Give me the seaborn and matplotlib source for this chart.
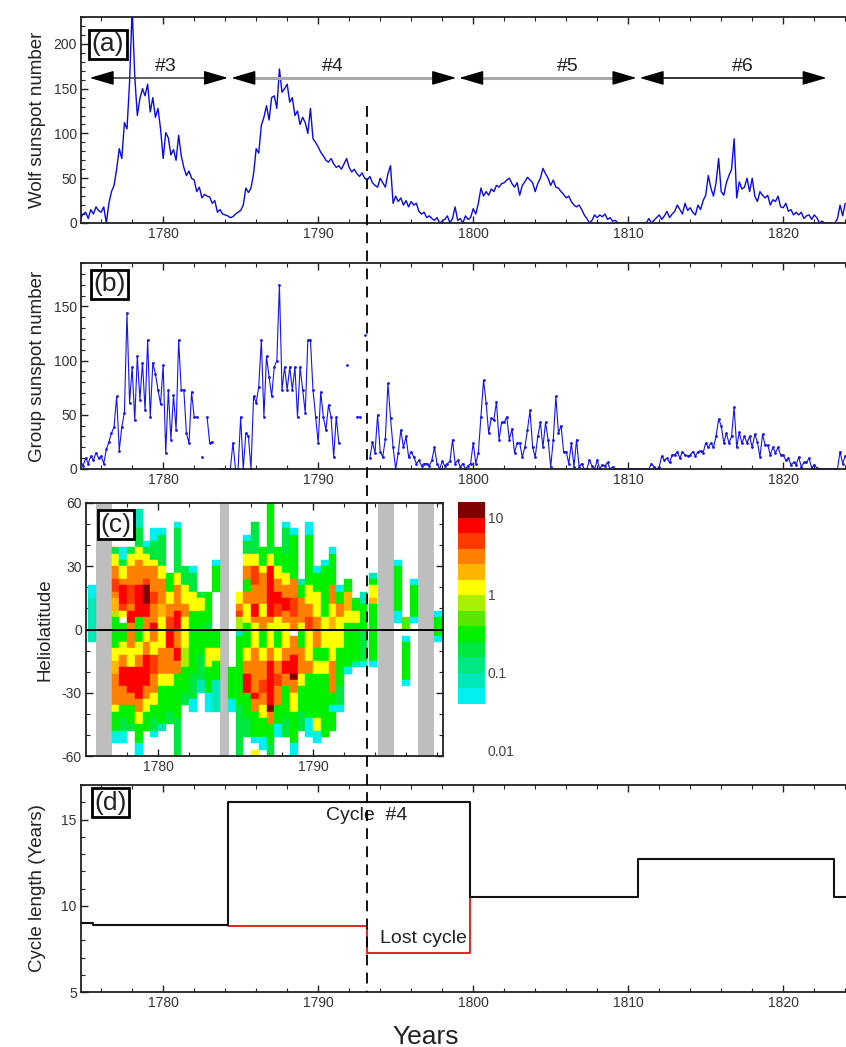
import numpy as np
import pandas as pd
import matplotlib
matplotlib.use("Agg")
import matplotlib.pyplot as plt
import seaborn as sns
from matplotlib.ticker import MultipleLocator, FixedLocator, NullLocator
from matplotlib.lines import Line2D

sns.set_style("ticks")
plt.rcParams["font.family"] = ["Liberation Sans", "DejaVu Sans"]
plt.rcParams["axes.unicode_minus"] = False

# ---------------- data ----------------
T_START = 1774 + 4 / 6          # first sample (bimonthly sampling)
T_STEP = 1 / 6

wolf = [5, 10,
        12, 5, 15, 10, 18, 14,          # 1775
        12, 18, 0, 22, 35, 42,          # 1776
        60, 83, 72, 112, 105, 157,      # 1777
        240, 164, 120, 139, 150, 142,   # 1778
        155, 124, 140, 118, 128, 105,   # 1779
        72, 101, 95, 76, 82, 70,        # 1780
        98, 75, 62, 53, 58, 50,         # 1781
        48, 35, 40, 28, 32, 30,         # 1782
        29, 22, 25, 12, 15, 10,         # 1783
        9, 8, 6, 7, 10, 12,             # 1784
        14, 20, 39, 34, 39, 55,         # 1785
        83, 78, 109, 118, 131, 115,     # 1786
        140, 142, 128, 172, 146, 150,   # 1787
        155, 135, 140, 120, 125, 110,   # 1788
        118, 112, 100, 128, 94, 90,     # 1789
        85, 79, 75, 70, 68, 72,         # 1790
        66, 62, 64, 60, 66, 72,         # 1791
        62, 57, 60, 55, 52, 56,         # 1792
        50, 48, 52, 45, 42, 40,         # 1793
        50, 45, 40, 55, 64, 22,         # 1794
        30, 24, 28, 20, 25, 18,         # 1795
        24, 20, 22, 13, 10, 12,         # 1796
        6, 8, 5, 3, 6, 0,               # 1797
        2, 4, 8, 0, 5, 18,              # 1798
        3, 5, 0, 8, 4, 6,               # 1799
        16, 10, 22, 39, 30, 35,         # 1800
        31, 38, 35, 42, 40, 44,         # 1801
        45, 48, 50, 44, 40, 45,         # 1802
        31, 42, 46, 51, 48, 45,         # 1803
        35, 44, 50, 61, 55, 50,         # 1804
        42, 48, 40, 39, 35, 32,         # 1805
        28, 30, 24, 20, 18, 20,         # 1806
        15, 9, 5, 0, 3, 9,              # 1807
        6, 9, 7, 10, 4, 6,              # 1808
        2, 3, 0, 0, 0, 0,               # 1809
        0, 0, 0, 0, 0, 0,               # 1810
        0, 0, 5, 0, 3, 6,               # 1811
        9, 4, 8, 13, 6, 10,             # 1812
        13, 20, 15, 10, 22, 14,         # 1813
        17, 12, 9, 20, 15, 25,          # 1814
        31, 53, 39, 30, 45, 72,         # 1815
        35, 31, 45, 53, 60, 94,         # 1816
        28, 46, 38, 40, 50, 35,         # 1817
        50, 30, 24, 35, 31, 28,         # 1818
        31, 20, 26, 24, 30, 18,         # 1819
        17, 22, 13, 15, 9, 12,          # 1820
        9, 12, 5, 8, 9, 4,              # 1821
        9, 6, 0, 2, 0, 0,               # 1822
        0, 0, 0, 5, 20, 8,              # 1823
        22]

nan = np.nan
group = [8, 3,
         10, 5, 12, 8, 15, 10,          # 1775
         12, 5, 18, 25, 33, 39,         # 1776
         67, 17, 39, 52, 144, 61,       # 1777
         94, 45, 104, 64, 98, 54,       # 1778
         119, 48, 98, 88, 73, 60,       # 1779
         96, 15, 73, 27, 68, 36,        # 1780
         119, 73, 73, 33, 24, 71,       # 1781
         48, 48, nan, 11, nan, 48,      # 1782
         24, 25, nan, nan, 0, 0,        # 1783
         0, 0, 0, 24, 0, 0,             # 1784
         48, 0, 33, 30, 0, 67,          # 1785
         61, 76, 119, 48, 104, 85,      # 1786
         67, 94, 100, 170, 73, 94,      # 1787
         73, 94, 73, 94, 48, 94,        # 1788
         73, 52, 119, 119, 73, 48,      # 1789
         24, 71, 48, 36, 59, 48,        # 1790
         11, 48, 24, nan, nan, 96,      # 1791
         nan, nan, nan, 48, 48, nan,    # 1792
         124, nan, 10, 25, 15, 50,      # 1793
         16, 11, 28, 79, 47, 20,        # 1794
         0, 15, 36, 20, 30, 11,         # 1795
         16, 11, 5, 8, 3, 5,            # 1796
         5, 3, 8, 20, 5, 0,             # 1797
         7, 3, 5, 7, 27, 5,             # 1798
         8, 2, 5, 0, 3, 5,              # 1799
         24, 5, 15, 48, 82, 61,         # 1800
         33, 47, 45, 62, 27, 43,        # 1801
         43, 48, 27, 37, 15, 24,        # 1802
         24, 11, 20, 36, 54, 20,        # 1803
         11, 30, 43, 20, 43, 27,        # 1804
         2, 27, 67, 33, 40, 16,         # 1805
         16, 5, 24, 2, 27, 2,           # 1806
         5, 0, 0, 8, 3, 0,              # 1807
         8, 0, 4, 3, 6, 0,              # 1808
         2, 0, 0, 0, 0, 0,              # 1809
         0, 0, 0, 0, 0, 0,              # 1810
         0, 0, 0, 5, 2, 0,              # 1811
         2, 12, 8, 10, 6, 13,           # 1812
         13, 16, 10, 16, 13, 12,        # 1813
         13, 16, 12, 16, 17, 15,        # 1814
         24, 20, 24, 20, 30, 46,        # 1815
         40, 24, 33, 24, 30, 57,        # 1816
         20, 34, 24, 30, 24, 30,        # 1817
         20, 32, 25, 11, 32, 22,        # 1818
         22, 13, 20, 15, 20, 13,        # 1819
         13, 8, 10, 4, 6, 4,            # 1820
         11, 2, 6, 6, 10, 1,            # 1821
         4, 1, 0, 0, 0, 0,              # 1822
         0, 0, 0, 0, 16, 5,             # 1823
         12]

# cycle arrows (panel a)
cycle_names = ["#3", "#4", "#5", "#6"]
cycle_arrow_start = [1775.26, 1784.40, 1799.10, 1810.74]
cycle_arrow_end = [1784.18, 1798.90, 1810.53, 1822.80]
cycle_label_x = [1780.2, 1790.95, 1806.1, 1817.4]
ARROW_LEVEL = 162
LABEL_LEVEL = 175

# butterfly diagram (panel c): column start year -> (row_from, row_to, colour level)
# rows are 3-degree bins counted from +60 deg downwards (row 0 = 57..60)
heat_cells = {
    1775.5: [(13, 14, 0), (15, 21, 1)],
    1777.0: [(7, 7, 3), (8, 9, 7), (10, 11, 9), (12, 13, 10), (14, 14, 9), (15, 16, 8), (17, 17, 6), (18, 19, 4),
             (20, 22, 4), (23, 24, 7), (25, 26, 8), (27, 31, 9), (32, 32, 7), (33, 35, 4), (36, 37, 0)],
    1777.5: [(7, 8, 0), (9, 9, 3), (10, 11, 7), (12, 12, 9), (13, 15, 11), (16, 16, 10), (17, 17, 7), (19, 19, 4),
             (20, 21, 4), (22, 23, 7), (24, 25, 9), (26, 28, 11), (29, 31, 9), (32, 33, 4), (34, 35, 3), (36, 37, 0)],
    1778.0: [(7, 7, 3), (8, 9, 7), (10, 12, 9), (13, 15, 10), (16, 16, 9), (17, 18, 11), (19, 19, 9),
             (20, 22, 9), (23, 25, 7), (26, 29, 11), (30, 31, 9), (32, 34, 4), (35, 35, 3)],
    1778.5: [(1, 3, 1), (4, 6, 3), (7, 8, 7), (9, 12, 9), (13, 17, 11), (18, 19, 4),
             (20, 21, 4), (22, 23, 7), (24, 25, 9), (26, 30, 11), (31, 32, 9), (33, 34, 7), (35, 37, 4), (38, 39, 0)],
    1779.0: [(6, 6, 0), (7, 7, 3), (8, 9, 7), (10, 11, 9), (12, 12, 10), (13, 15, 12), (16, 17, 11), (18, 19, 9),
             (20, 21, 7), (22, 23, 9), (24, 28, 11), (29, 30, 9), (31, 32, 7), (33, 35, 4)],
    1779.5: [(4, 5, 0), (6, 8, 3), (9, 9, 7), (10, 13, 9), (14, 15, 10), (16, 18, 9), (19, 19, 11),
             (20, 21, 9), (22, 23, 7), (24, 26, 10), (27, 29, 9), (30, 31, 7), (32, 33, 4), (34, 35, 3), (36, 36, 0)],
    1780.0: [(4, 4, 0), (5, 9, 3), (10, 11, 7), (12, 15, 9), (16, 17, 8), (18, 19, 7),
             (20, 22, 7), (23, 26, 9), (27, 28, 7), (29, 34, 4), (35, 35, 1)],
    1780.5: [(11, 13, 4), (14, 15, 7), (16, 17, 9), (18, 19, 10),
             (20, 22, 11), (23, 26, 9), (27, 28, 7), (29, 32, 4), (33, 34, 3)],
    1781.0: [(3, 3, 0), (4, 10, 3), (11, 12, 7), (13, 16, 9), (17, 19, 11),
             (20, 22, 9), (23, 24, 11), (25, 26, 9), (27, 33, 4), (34, 39, 3)],
    1781.5: [(10, 12, 3), (13, 15, 7), (16, 17, 9), (18, 19, 7),
             (20, 22, 7), (23, 25, 6), (26, 29, 4), (30, 31, 3)],
    1782.0: [(10, 10, 0), (11, 13, 3), (14, 16, 7), (17, 19, 4), (20, 26, 4), (27, 30, 3), (31, 32, 0)],
    1782.5: [(14, 14, 3), (15, 16, 7), (17, 19, 4), (20, 23, 4), (24, 27, 3), (28, 29, 1)],
    1783.0: [(14, 18, 4), (19, 19, 3), (20, 22, 4), (23, 25, 7), (26, 29, 4), (30, 32, 0)],
    1783.5: [(9, 9, 0), (10, 13, 4), (20, 22, 4), (23, 24, 7), (25, 27, 4), (28, 32, 1)],
    1784.5: [(26, 30, 4), (31, 32, 0)],
    1785.0: [(14, 15, 7), (16, 16, 9), (17, 17, 10), (18, 19, 6), (20, 20, 1), (21, 31, 4), (32, 39, 3)],
    1785.5: [(5, 5, 0), (6, 7, 3), (8, 9, 7), (10, 11, 9), (12, 13, 4), (14, 15, 9), (16, 18, 7), (19, 19, 4),
             (20, 22, 4), (23, 24, 7), (25, 26, 9), (27, 29, 11), (30, 33, 4), (34, 36, 3)],
    1786.0: [(3, 7, 3), (8, 9, 7), (10, 12, 10), (13, 15, 9), (16, 17, 11), (18, 18, 9), (19, 19, 7),
             (20, 22, 7), (23, 29, 9), (30, 30, 11), (31, 32, 9), (33, 36, 4), (37, 37, 0), (39, 39, 7)],
    1786.5: [(7, 9, 4), (10, 10, 7), (11, 15, 9), (16, 17, 7), (18, 19, 9),
             (20, 22, 4), (23, 24, 7), (25, 27, 9), (28, 29, 10), (30, 31, 9), (32, 33, 7), (34, 36, 4), (37, 38, 0)],
    1787.0: [(0, 6, 4), (7, 7, 3), (8, 9, 7), (10, 17, 11), (18, 18, 9), (19, 19, 7),
             (20, 22, 7), (23, 24, 9), (25, 31, 11), (32, 32, 12), (33, 34, 9), (35, 37, 4), (38, 39, 3)],
    1787.5: [(7, 9, 4), (10, 11, 7), (12, 13, 9), (14, 15, 11), (16, 17, 10), (18, 19, 7),
             (20, 22, 4), (23, 24, 7), (25, 26, 9), (27, 28, 10), (29, 31, 9), (32, 34, 4), (35, 36, 0)],
    1788.0: [(3, 3, 0), (4, 7, 3), (8, 10, 4), (11, 12, 7), (13, 14, 9), (15, 16, 11), (17, 18, 9), (19, 19, 7),
             (20, 22, 7), (23, 24, 9), (25, 26, 11), (27, 28, 9), (29, 33, 4), (34, 36, 3)],
    1788.5: [(4, 4, 0), (5, 11, 4), (12, 14, 9), (15, 17, 10), (18, 19, 9),
             (21, 23, 9), (24, 26, 11), (27, 27, 12), (28, 29, 9), (30, 32, 7), (33, 37, 4), (38, 39, 0)],
    1789.0: [(12, 12, 1), (13, 14, 4), (15, 18, 9), (19, 19, 7),
             (20, 22, 4), (23, 26, 9), (27, 28, 7), (29, 32, 4), (33, 35, 3)],
    1789.5: [(3, 4, 0), (5, 12, 4), (13, 15, 7), (16, 17, 9), (18, 19, 10),
             (20, 24, 7), (25, 26, 9), (27, 33, 4), (34, 36, 0)],
    1790.0: [(10, 10, 0), (11, 13, 4), (14, 17, 7), (18, 19, 9),
             (20, 22, 9), (23, 24, 4), (25, 26, 7), (27, 33, 4), (34, 35, 7), (36, 37, 0)],
    1790.5: [(9, 9, 0), (10, 17, 4), (18, 19, 7), (20, 22, 7), (23, 24, 4), (25, 26, 7), (27, 36, 4)],
    1791.0: [(7, 7, 0), (8, 12, 4), (13, 15, 9), (16, 17, 7), (18, 19, 8),
             (20, 24, 7), (25, 29, 9), (30, 31, 4), (32, 32, 0), (33, 35, 4)],
    1791.5: [(13, 13, 0), (14, 15, 4), (16, 17, 9), (18, 19, 7), (20, 22, 7), (23, 28, 4), (29, 31, 3), (32, 32, 0)],
    1792.0: [(12, 13, 4), (14, 16, 8), (17, 18, 7), (19, 19, 4), (20, 25, 4), (26, 26, 0)],
    1792.5: [(15, 16, 4), (17, 18, 7), (19, 19, 4), (20, 24, 4), (25, 25, 1)],
    1793.0: [(14, 15, 1), (16, 19, 4), (20, 24, 3), (25, 25, 0)],
    1793.6: [(11, 11, 1), (12, 12, 4), (13, 14, 7), (15, 15, 8), (16, 19, 4), (20, 24, 4), (25, 25, 0)],
    1795.25: [(9, 9, 0), (10, 16, 4), (17, 18, 0)],
    1795.75: [(18, 19, 5), (21, 21, 0), (22, 27, 4), (28, 28, 0)],
    1796.25: [(12, 12, 0), (13, 17, 4), (18, 18, 0)],
    1797.8: [(17, 17, 0), (18, 20, 4), (21, 21, 0)],
}
no_data_gaps = [(1776.0, 1777.0), (1784.0, 1784.55), (1794.2, 1795.25), (1796.75, 1797.8)]

level_colors = ["#00F0F0", "#00E8B8", "#00E880", "#00E840", "#00F000", "#58E800", "#A8F000",
                "#FFFF00", "#FFB400", "#FF7F00", "#FF3A00", "#FF0000", "#800000"]
level_edges_log = [-1.4 + 0.2 * k for k in range(14)]
cbar_ticks = [0.01, 0.1, 1, 10]
cbar_ticklabels = ["0.01", "0.1", "1", "10"]

# cycle lengths (panel d)
cycle_start = [1774.7, 1775.5, 1784.2, 1799.8, 1810.6, 1823.3, 1824.05]
cycle_length = [9.0, 8.9, 16.0, 10.5, 12.7, 10.5, 10.5]
LOST_START = 1793.15
lost_x = [1784.2, LOST_START, 1799.8]
lost_y = [8.85, 7.25, 10.5]

# ---------------- figure ----------------
W, H = 846, 1047
fig = plt.figure(figsize=(W / 100, H / 100), dpi=100)
fig.patch.set_facecolor("white")


def rect(l, t, r, b):
    return [l / W, 1 - b / H, (r - l) / W, (b - t) / H]


ax_a = fig.add_axes(rect(81, 17, 846, 223))
ax_b = fig.add_axes(rect(81, 263, 846, 469))
ax_c = fig.add_axes(rect(86, 503, 443, 756))
cax = fig.add_axes(rect(458, 502, 485, 750))
ax_d = fig.add_axes(rect(81, 785, 846, 992))

SPINE = "#222222"
TXT = "#333333"


def style(ax, right=False):
    for s in ["top", "bottom", "left", "right"]:
        ax.spines[s].set_linewidth(1.3)
        ax.spines[s].set_color(SPINE)
    ax.spines["right"].set_visible(right)
    ax.tick_params(which="both", direction="in", top=True, right=right, bottom=True, left=True,
                   labelsize=10, labelcolor=TXT, color=SPINE, pad=3)
    ax.tick_params(which="major", length=5, width=1.0)
    ax.tick_params(which="minor", length=3, width=0.8)
    ax.xaxis.set_major_locator(MultipleLocator(10))
    ax.xaxis.set_minor_locator(MultipleLocator(2))
    ax.set_facecolor("white")


def panel_label(ax, txt, xf, yf):
    ax.text(xf, yf, txt, transform=ax.transAxes, fontsize=19, ha="left", va="top", color="#222",
            bbox=dict(boxstyle="square,pad=0.1", fc="white", ec="black", lw=2), zorder=10)


t = T_START + T_STEP * np.arange(len(wolf))
XL = (1774.7, 1824.05)

# ---- panel a
df_a = pd.DataFrame({"year": t, "wolf": wolf})
sns.lineplot(data=df_a, x="year", y="wolf", ax=ax_a, color="#0a0ae6", lw=1.0,
             estimator=None, sort=False, legend=False)
ax_a.set_xlim(*XL)
ax_a.set_ylim(0, 230)
style(ax_a)
ax_a.yaxis.set_major_locator(MultipleLocator(50))
ax_a.yaxis.set_minor_locator(MultipleLocator(10))
ax_a.set_xlabel("")
ax_a.set_ylabel("Wolf sunspot number", fontsize=13.5, color="#222")
ax_a.yaxis.set_label_coords(-0.0458, 0.5)
shaft_styles = [("#444444", 1.2), ("#A8A8A8", 2.2), ("#A8A8A8", 2.2), ("#111111", 1.2)]
for name, x0, x1, xl, (sc, sw) in zip(cycle_names, cycle_arrow_start, cycle_arrow_end,
                                      cycle_label_x, shaft_styles):
    ax_a.plot([x0 + 0.6, x1 - 0.6], [ARROW_LEVEL, ARROW_LEVEL], color=sc, lw=sw, solid_capstyle="butt", zorder=4)
    for tip, inner in [(x0, x0 + 1.35), (x1, x1 - 1.35)]:
        ax_a.annotate("", xy=(tip, ARROW_LEVEL), xytext=(inner, ARROW_LEVEL),
                      arrowprops=dict(arrowstyle="-|>,head_length=0.75,head_width=0.22", color="black",
                                      lw=1.0, shrinkA=0, shrinkB=0, mutation_scale=20), zorder=5)
    ax_a.text(xl, LABEL_LEVEL, name, ha="center", va="center", fontsize=14, color="#222", zorder=5)
panel_label(ax_a, "(a)", 0.0137, 0.925)

# ---- panel b
ax_b.plot(t, group, color="#1414f0", lw=0.8, marker="o", ms=2.0, mew=0)
ax_b.set_xlim(*XL)
ax_b.set_ylim(0, 190)
style(ax_b)
ax_b.yaxis.set_major_locator(MultipleLocator(50))
ax_b.yaxis.set_minor_locator(MultipleLocator(10))
ax_b.set_ylabel("Group sunspot number", fontsize=13.5, color="#222")
ax_b.yaxis.set_label_coords(-0.0458, 0.5)
panel_label(ax_b, "(b)", 0.0163, 0.955)

# ---- panel c
for a0, a1 in no_data_gaps:
    ax_c.axvspan(a0, a1, color="#BEBEBE", lw=0, zorder=1)
for yr, segs in heat_cells.items():
    for r0, r1, lvl in segs:
        ax_c.bar(yr, 3 * (r1 - r0 + 1), bottom=60 - 3 * (r1 + 1), width=0.5, align="edge",
                 color=level_colors[lvl], edgecolor=level_colors[lvl], lw=0.3, zorder=2)
ax_c.axhline(0, color="black", lw=1.4, zorder=3)
ax_c.set_xlim(1775.35, 1798.38)
ax_c.set_ylim(-60, 60)
style(ax_c, right=True)
ax_c.yaxis.set_major_locator(MultipleLocator(30))
ax_c.yaxis.set_minor_locator(MultipleLocator(10))
ax_c.set_ylabel("Heliolatitude", fontsize=13.5, color="#222")
ax_c.yaxis.set_label_coords(-0.0924, 0.5)
panel_label(ax_c, "(c)", 0.040, 0.962)

# colour bar
for k in range(len(level_colors)):
    lo, hi = 10 ** level_edges_log[k], 10 ** level_edges_log[k + 1]
    cax.bar(0, hi - lo, bottom=lo, width=1, color=level_colors[k], lw=0)
cax.set_yscale("log")
cax.set_ylim(0.01, 10 ** 1.2)
cax.set_xlim(-0.5, 0.5)
for s in cax.spines.values():
    s.set_visible(False)
cax.set_xticks([])
cax.yaxis.tick_right()
cax.yaxis.set_major_locator(FixedLocator(cbar_ticks))
cax.yaxis.set_minor_locator(NullLocator())
cax.set_yticklabels(cbar_ticklabels)
cax.tick_params(axis="y", length=0, pad=2, labelsize=10, labelcolor="#444")
cax.set_facecolor("white")

# ---- panel d
ax_d.step(cycle_start, cycle_length, where="post", color="#111111", lw=1.5, zorder=3)
ax_d.step(lost_x, lost_y, where="post", color="#E82020", lw=1.4, zorder=2)
ax_d.set_xlim(*XL)
ax_d.set_ylim(5, 17)
style(ax_d)
ax_d.yaxis.set_major_locator(MultipleLocator(5))
ax_d.yaxis.set_minor_locator(MultipleLocator(1))
ax_d.set_ylabel("Cycle length (Years)", fontsize=13.5, color="#222")
ax_d.yaxis.set_label_coords(-0.0458, 0.5)
ax_d.text(1793.1, 15.26, "Cycle  #4", ha="center", va="center", fontsize=14, color="#222")
ax_d.text(1794.0, 8.13, "Lost cycle", ha="left", va="center", fontsize=14, color="#222")
panel_label(ax_d, "(d)", 0.0176, 0.972)

fig.text(426 / W, 1 - 1044 / H, "Years", ha="center", va="baseline", fontsize=19, color="#222")

# dashed marker of the lost cycle, spanning panels a-d
xd, ytop = ax_a.transData.transform((LOST_START, 131))
_, ybot = ax_d.transData.transform((LOST_START, 5))
inv = fig.transFigure.inverted()
xf, ytf = inv.transform((xd, ytop))
_, ybf = inv.transform((xd, ybot))
fig.add_artist(Line2D([xf, xf], [ytf, ybf], transform=fig.transFigure, color="black",
                      lw=1.3, ls=(0, (6, 4)), zorder=20))

fig.savefig("out.png", dpi=100, facecolor="white")
